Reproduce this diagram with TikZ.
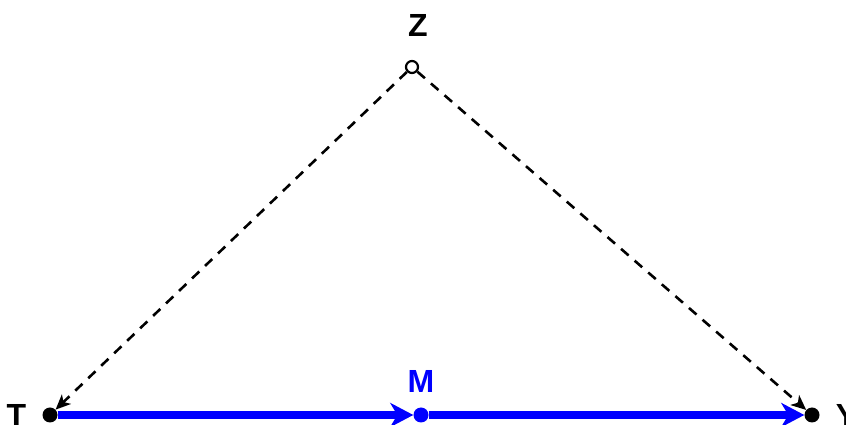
\documentclass[tikz,border=0pt]{standalone}
\usepackage{fontspec}
\setmainfont{Liberation Sans}
\usepackage{xcolor}
\definecolor{medblue}{RGB}{0,0,255}
\usetikzlibrary{positioning,arrows.meta}

\begin{document}
\begin{tikzpicture}[
    x=1pt, y=1pt,
    dot/.style={circle, fill=black, inner sep=0pt, minimum size=15pt},
    hollow/.style={circle, draw=black, line width=2.2pt, fill=white,
                   inner sep=0pt, minimum size=12pt},
    lbl/.style={font=\fontsize{32}{34}\selectfont\bfseries, inner sep=0pt},
    med/.style={-{Stealth[length=23pt, width=24pt, inset=7pt]},
                line width=7.5pt, medblue},
    conf/.style={-{Stealth[length=15pt, width=13pt, inset=4pt]},
                 line width=2.6pt, dash pattern=on 10pt off 8pt},
]
\useasboundingbox (0,0) rectangle (846,425);

% --- NODES ---
\node[hollow] (Z) at (412,358) {};
\node[dot] (T) at (50,10) {};
\node[dot, fill=medblue] (M) at (421,10) {};
\node[dot] (Y) at (812,10) {};

% labels
\node[lbl, above=23pt of Z, xshift=6pt] (Zl) {Z};
\node[lbl, left=16pt of T] (Tl) {T};
\node[lbl, medblue, above=15pt of M] (Ml) {M};
\node[lbl, right=16pt of Y] (Yl) {Y};

% --- ARROWS ---
\draw[med] (T) -- (M);
\draw[med] (M) -- (Y);

\draw[conf] (Z) -- (T);
\draw[conf] (Z) -- (Y);

\end{tikzpicture}
\end{document}
